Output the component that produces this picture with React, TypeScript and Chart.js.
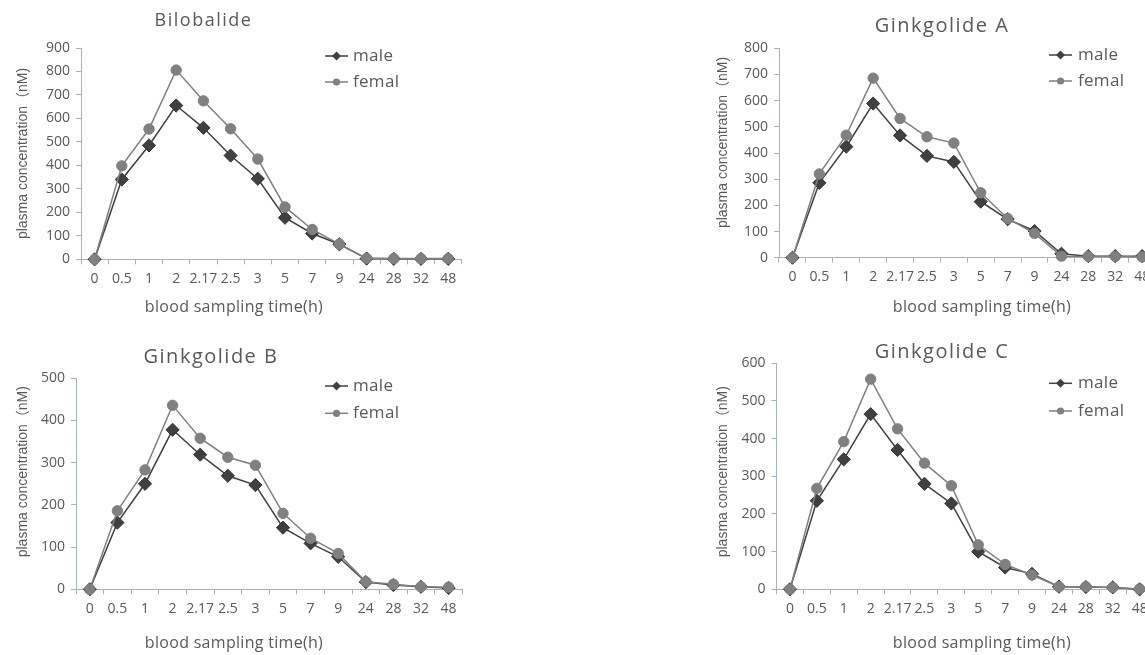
import React, { useEffect, useRef } from "react";
import { Chart, registerables } from "chart.js";

Chart.register(...registerables);

// ---------- data ----------
const timeLabels = ["0", "0.5", "1", "2", "2.17", "2.5", "3", "5", "7", "9", "24", "28", "32", "48"];

const bilobalideMale = [0, 340, 485, 655, 560, 442, 343, 177, 110, 64, 3, 2, 2, 2];
const bilobalideFemale = [0, 398, 555, 806, 675, 556, 427, 223, 127, 65, 4, 3, 3, 3];

const ginkgolideAMale = [0, 286, 424, 589, 467, 389, 366, 214, 147, 102, 15, 6, 6, 6];
const ginkgolideAFemale = [0, 320, 468, 686, 532, 462, 438, 248, 150, 93, 6, 5, 5, 3];

const ginkgolideBMale = [0, 158, 250, 378, 319, 269, 247, 146, 109, 77, 17, 10, 6, 3];
const ginkgolideBFemale = [0, 186, 283, 436, 358, 313, 294, 180, 121, 85, 18, 12, 6, 5];

const ginkgolideCMale = [0, 235, 345, 465, 370, 280, 228, 100, 58, 41, 7, 6, 5, 0];
const ginkgolideCFemale = [0, 268, 392, 558, 426, 335, 275, 118, 66, 38, 7, 7, 5, 1];

const seriesNames = ["male", "femal"];
const xAxisTitle = "blood sampling time(h)";
const yAxisTitle = "plasma concentration（nM)";

// ---------- styles ----------
const MALE = "#404040";
const FEMALE = "#808080";
const AXIS = "#a9b1ba";
const TXT = "#595959";
const SANS = '"Open Sans", "DejaVu Sans", sans-serif';

type PanelCfg = {
  title: string;
  titleSize: number;
  male: number[];
  female: number[];
  yMax: number;
  canvas: { left: number; top: number; w: number; h: number };
  area: { left: number; top: number; right: number; bottom: number };
  titlePos: { x: number; y: number };
  legend: { lineX: number; textX: number; y1: number; y2: number };
  xTitle: { x: number; y: number };
  yTitle: { x: number; y: number };
};

const panels: PanelCfg[] = [
  {
    title: "Bilobalide",
    titleSize: 18,
    male: bilobalideMale,
    female: bilobalideFemale,
    yMax: 900,
    canvas: { left: 0, top: 0, w: 480, h: 330 },
    area: { left: 81, top: 48, right: 461.8, bottom: 259.3 },
    titlePos: { x: 203.5, y: 21 },
    legend: { lineX: 325, textX: 353, y1: 56, y2: 82 },
    xTitle: { x: 234, y: 307 },
    yTitle: { x: 23, y: 153.5 },
  },
  {
    title: "Ginkgolide A",
    titleSize: 20,
    male: ginkgolideAMale,
    female: ginkgolideAFemale,
    yMax: 800,
    canvas: { left: 700, top: 0, w: 480, h: 330 },
    area: { left: 779, top: 48.3, right: 1155.6, bottom: 257.7 },
    titlePos: { x: 942, y: 26.7 },
    legend: { lineX: 1049, textX: 1078, y1: 55, y2: 81 },
    xTitle: { x: 982, y: 307 },
    yTitle: { x: 723, y: 142.5 },
  },
  {
    title: "Ginkgolide B",
    titleSize: 20,
    male: ginkgolideBMale,
    female: ginkgolideBFemale,
    yMax: 500,
    canvas: { left: 0, top: 330, w: 480, h: 325 },
    area: { left: 76, top: 378.3, right: 462.4, bottom: 589.3 },
    titlePos: { x: 211, y: 357.7 },
    legend: { lineX: 325, textX: 353, y1: 386, y2: 413.3 },
    xTitle: { x: 234, y: 643 },
    yTitle: { x: 23, y: 471.7 },
  },
  {
    title: "Ginkgolide C",
    titleSize: 20,
    male: ginkgolideCMale,
    female: ginkgolideCFemale,
    yMax: 600,
    canvas: { left: 700, top: 330, w: 480, h: 325 },
    area: { left: 776.5, top: 363.3, right: 1153.1, bottom: 589.3 },
    titlePos: { x: 942, y: 352.7 },
    legend: { lineX: 1049, textX: 1078, y1: 383.3, y2: 411 },
    xTitle: { x: 982, y: 643 },
    yTitle: { x: 723, y: 471.7 },
  },
];

function makeTextPlugin(p: PanelCfg) {
  return {
    id: "panelText",
    afterDraw(chart: any) {
      const ctx: CanvasRenderingContext2D = chart.ctx;
      const ox = p.canvas.left;
      const oy = p.canvas.top;
      ctx.save();
      ctx.fillStyle = TXT;
      ctx.textBaseline = "middle";

      // title
      ctx.textAlign = "center";
      ctx.font = `${p.titleSize}px ${SANS}`;
      (ctx as any).letterSpacing = "1.5px";
      ctx.fillText(p.title, p.titlePos.x - ox, p.titlePos.y - oy);

      // x axis title
      ctx.font = `16px ${SANS}`;
      (ctx as any).letterSpacing = "0.3px";
      ctx.fillText(xAxisTitle, p.xTitle.x - ox, p.xTitle.y - oy);

      // y axis title
      (ctx as any).letterSpacing = "0px";
      ctx.save();
      ctx.translate(p.yTitle.x - ox, p.yTitle.y - oy);
      ctx.rotate(-Math.PI / 2);
      ctx.font = `14px "Liberation Sans", Arial, "Noto Sans CJK SC", sans-serif`;
      ctx.fillText(yAxisTitle, 0, 0);
      ctx.restore();

      // legend
      const lx = p.legend.lineX - ox;
      const ys = [p.legend.y1 - oy, p.legend.y2 - oy];
      const cols = [MALE, FEMALE];
      ys.forEach((y, i) => {
        ctx.strokeStyle = cols[i];
        ctx.lineWidth = 1.5;
        ctx.beginPath();
        ctx.moveTo(lx, y);
        ctx.lineTo(lx + 23, y);
        ctx.stroke();
        ctx.fillStyle = cols[i];
        const cx = lx + 11.5;
        ctx.beginPath();
        if (i === 0) {
          const r = 4.5;
          ctx.moveTo(cx - r, y);
          ctx.lineTo(cx, y - r);
          ctx.lineTo(cx + r, y);
          ctx.lineTo(cx, y + r);
          ctx.closePath();
        } else {
          ctx.arc(cx, y, 3.6, 0, Math.PI * 2);
        }
        ctx.fill();
        ctx.fillStyle = TXT;
        ctx.textAlign = "left";
        ctx.font = `17px ${SANS}`;
        (ctx as any).letterSpacing = "0.3px";
        ctx.fillText(seriesNames[i], p.legend.textX - ox, y);
      });
      ctx.restore();
    },
  };
}

function Panel({ p }: { p: PanelCfg }) {
  const ref = useRef<HTMLCanvasElement>(null);
  useEffect(() => {
    const c = p.canvas;
    const a = p.area;
    const tickFont = { family: SANS, size: 14 };
    const chart = new Chart(ref.current as HTMLCanvasElement, {
      type: "line",
      data: {
        labels: timeLabels,
        datasets: [
          {
            label: seriesNames[0],
            data: p.male,
            borderColor: MALE,
            backgroundColor: MALE,
            pointBackgroundColor: MALE,
            pointBorderColor: "#333333",
            pointStyle: "rectRot",
            pointRadius: 6.6,
            pointBorderWidth: 1,
            borderWidth: 1.5,
            tension: 0,
            clip: false,
            order: 2,
          },
          {
            label: seriesNames[1],
            data: p.female,
            borderColor: FEMALE,
            backgroundColor: FEMALE,
            pointBackgroundColor: FEMALE,
            pointBorderColor: FEMALE,
            pointStyle: "circle",
            pointRadius: 5.2,
            pointBorderWidth: 1,
            borderWidth: 1.5,
            tension: 0,
            clip: false,
            order: 1,
          },
        ],
      } as any,
      options: {
        responsive: false,
        animation: false,
        devicePixelRatio: 1,
        layout: {
          padding: { left: 0, top: a.top - c.top, right: c.left + c.w - a.right, bottom: 0 },
        },
        plugins: {
          legend: { display: false },
          tooltip: { enabled: false },
          title: { display: false },
        },
        scales: {
          x: {
            type: "category",
            offset: true,
            grid: {
              display: true,
              drawOnChartArea: false,
              drawTicks: true,
              tickLength: 5,
              color: AXIS,
              offset: true,
            },
            border: { display: true, color: AXIS, width: 1 },
            ticks: {
              autoSkip: false,
              maxRotation: 0,
              minRotation: 0,
              padding: 6,
              color: TXT,
              font: tickFont,
            },
            afterFit: (s: any) => {
              s.height = c.top + c.h - a.bottom;
            },
          },
          y: {
            type: "linear",
            min: 0,
            max: p.yMax,
            grid: {
              display: true,
              drawOnChartArea: false,
              drawTicks: true,
              tickLength: 5,
              color: AXIS,
            },
            border: { display: true, color: AXIS, width: 1 },
            ticks: {
              stepSize: 100,
              padding: 6,
              color: TXT,
              font: tickFont,
            },
            afterFit: (s: any) => {
              s.width = a.left - c.left;
            },
          },
        },
      } as any,
      plugins: [makeTextPlugin(p)],
    });
    return () => chart.destroy();
  }, [p]);
  return (
    <canvas
      ref={ref}
      width={p.canvas.w}
      height={p.canvas.h}
      style={{
        position: "absolute",
        left: p.canvas.left,
        top: p.canvas.top,
        width: p.canvas.w,
        height: p.canvas.h,
      }}
    />
  );
}

export default function App() {
  return (
    <div
      style={{
        position: "absolute",
        left: 0,
        top: 0,
        width: 1145,
        height: 655,
        overflow: "hidden",
        background: "#ffffff",
      }}
    >
      {panels.map((p) => (
        <Panel key={p.title} p={p} />
      ))}
    </div>
  );
}
